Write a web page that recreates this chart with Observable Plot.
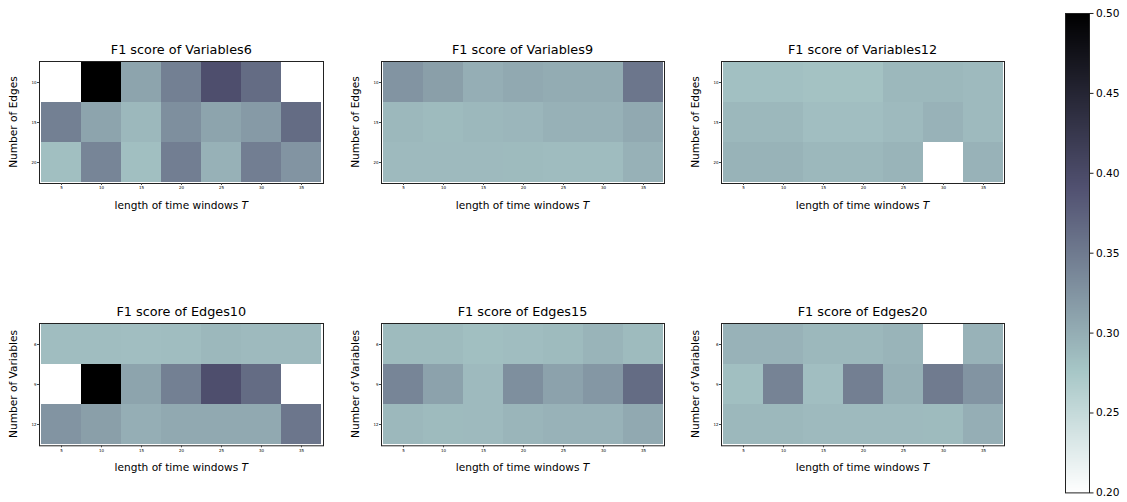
<!DOCTYPE html>
<html>
<head>
<meta charset="utf-8">
<script src="https://cdn.jsdelivr.net/npm/d3@7"></script>
<script src="https://cdn.jsdelivr.net/npm/@observablehq/plot@0.6"></script>
<style>
  html, body { margin: 0; padding: 0; background: #fff; }
  #fig { position: relative; width: 1127px; height: 502px; font-family: "DejaVu Sans", sans-serif; color: #000; overflow: hidden; }
  .t { position: absolute; white-space: nowrap; transform: translate(-50%, -50%); line-height: 1; }
  .title { font-size: 12.8px; }
  .lab { font-size: 10.6px; }
  .rot { transform: translate(-50%, -50%) rotate(-90deg); }
  .p { position: absolute; }
</style>
</head>
<body>
<div id="fig"></div>
<script>
// ---- data ----
const windows = [5, 10, 15, 20, 25, 30, 35];
const edgeCounts = [10, 15, 20];
const variableCounts = [6, 9, 12];
const colorTicks = [0.20, 0.25, 0.30, 0.35, 0.40, 0.45, 0.50];

// rows follow the y categories top to bottom; white cells are at or below 0.20
const variables6 = [
  [0.20, 0.50, 0.310, 0.345, 0.395, 0.365, 0.20],
  [0.345, 0.310, 0.290, 0.330, 0.310, 0.320, 0.365],
  [0.283, 0.340, 0.283, 0.347, 0.297, 0.347, 0.325]
];
const variables9 = [
  [0.325, 0.315, 0.300, 0.305, 0.302, 0.302, 0.355],
  [0.290, 0.287, 0.290, 0.292, 0.297, 0.297, 0.305],
  [0.288, 0.288, 0.288, 0.287, 0.286, 0.286, 0.297]
];
const variables12 = [
  [0.282, 0.282, 0.280, 0.280, 0.290, 0.290, 0.288],
  [0.290, 0.290, 0.284, 0.284, 0.288, 0.296, 0.288],
  [0.295, 0.295, 0.290, 0.290, 0.294, 0.20, 0.296]
];
const edges10 = [
  [0.285, 0.285, 0.284, 0.285, 0.290, 0.288, 0.288],
  [0.20, 0.50, 0.310, 0.345, 0.395, 0.365, 0.20],
  [0.325, 0.315, 0.300, 0.305, 0.305, 0.305, 0.355]
];
const edges15 = [
  [0.287, 0.287, 0.283, 0.285, 0.287, 0.294, 0.287],
  [0.340, 0.312, 0.288, 0.330, 0.312, 0.322, 0.365],
  [0.290, 0.287, 0.288, 0.293, 0.296, 0.296, 0.305]
];
const edges20 = [
  [0.296, 0.296, 0.290, 0.290, 0.294, 0.20, 0.296],
  [0.283, 0.342, 0.284, 0.346, 0.298, 0.350, 0.325],
  [0.290, 0.290, 0.288, 0.288, 0.288, 0.287, 0.300]
];

// ---- matplotlib "bone_r" colormap ----
function bone(s) {
  const r = s < 0.746032 ? 0.652778 * s / 0.746032 : 0.652778 + (1 - 0.652778) * (s - 0.746032) / (1 - 0.746032);
  const g = s < 0.365079 ? 0.319444 * s / 0.365079
    : s < 0.746032 ? 0.319444 + (0.777778 - 0.319444) * (s - 0.365079) / (0.746032 - 0.365079)
    : 0.777778 + (1 - 0.777778) * (s - 0.746032) / (1 - 0.746032);
  const b = s < 0.365079 ? 0.444444 * s / 0.365079 : 0.444444 + (1 - 0.444444) * (s - 0.365079) / (1 - 0.365079);
  return `rgb(${Math.round(r * 255)},${Math.round(g * 255)},${Math.round(b * 255)})`;
}
const boneR = t => bone(1 - Math.max(0, Math.min(1, t)));
const colorScale = { type: "linear", domain: [0.2, 0.5], interpolate: boneR, clamp: true };

const fig = document.getElementById("fig");

function addText(html, x, y, cls) {
  const d = document.createElement("div");
  d.className = "t " + cls;
  d.style.left = x + "px";
  d.style.top = y + "px";
  d.innerHTML = html;
  fig.appendChild(d);
}

const ML = 20, MR = 2, MT = 2, MB = 12;
function panel(values, yCats, title, yLabel, left, top, w, h) {
  const data = [];
  values.forEach((row, i) => row.forEach((v, j) => data.push({ w: windows[j], n: yCats[i], v })));
  const svg = Plot.plot({
    width: w + ML + MR,
    height: h + MT + MB,
    marginLeft: ML, marginRight: MR, marginTop: MT, marginBottom: MB,
    style: { fontFamily: "DejaVu Sans, sans-serif", background: "transparent", overflow: "visible" },
    x: { type: "band", domain: windows, padding: 0 },
    y: { type: "band", domain: yCats, padding: 0 },
    color: colorScale,
    marks: [
      Plot.cell(data, { x: "w", y: "n", fill: "v", inset: 0, shapeRendering: "crispEdges" }),
      Plot.frame({ stroke: "#222", strokeWidth: 1 }),
      Plot.axisX({ tickSize: 2, tickPadding: 1, fontSize: 4, label: null, stroke: "#444" }),
      Plot.axisY({ tickSize: 2, tickPadding: 1, fontSize: 4, label: null, stroke: "#444" })
    ]
  });
  svg.classList.add("p");
  svg.style.left = (left - ML) + "px";
  svg.style.top = (top - MT) + "px";
  fig.appendChild(svg);
  const cx = left + w / 2;
  addText(title, cx, top - 11, "title");
  addText("length of time windows <i>T</i>", cx, top + h + 22, "lab");
  addText(yLabel, left - 26, top + h / 2, "lab rot");
}

const lefts = [39.3, 381, 721];
const widths = [284, 283, 283];
panel(variables6, edgeCounts, "F1 score of Variables6", "Number of Edges", lefts[0], 60.7, widths[0], 122);
panel(variables9, edgeCounts, "F1 score of Variables9", "Number of Edges", lefts[1], 60.7, widths[1], 122);
panel(variables12, edgeCounts, "F1 score of Variables12", "Number of Edges", lefts[2], 60.7, widths[2], 122);
panel(edges10, variableCounts, "F1 score of Edges10", "Number of Variables", lefts[0], 322.7, widths[0], 122.3);
panel(edges15, variableCounts, "F1 score of Edges15", "Number of Variables", lefts[1], 322.7, widths[1], 122.3);
panel(edges20, variableCounts, "F1 score of Edges20", "Number of Variables", lefts[2], 322.7, widths[2], 122.3);

// ---- colorbar ----
const cbTop = 13.3, cbBottom = 492.7, cbLeft = 1065, cbW = 24;
const cb = Plot.plot({
  width: cbW + 1 + 45,
  height: (cbBottom - cbTop) + 16,
  marginLeft: 1, marginRight: 45, marginTop: 8, marginBottom: 8,
  style: { fontFamily: "DejaVu Sans, sans-serif", background: "transparent", overflow: "visible", color: "#000" },
  x: { domain: [0, 1], axis: null },
  y: { domain: [0.2, 0.5] },
  color: colorScale,
  marks: [
    Plot.raster({ x1: 0, x2: 1, y1: 0.2, y2: 0.5, fill: (x, y) => y, width: 1, height: 480, imageRendering: "auto" }),
    Plot.frame({ stroke: "#222", strokeWidth: 1 }),
    Plot.axisY({ anchor: "right", ticks: colorTicks, tickFormat: d3.format(".2f"), tickSize: 3.5, tickPadding: 3, fontSize: 10.6, label: null, stroke: "#222" })
  ]
});
cb.classList.add("p");
cb.style.left = (cbLeft - 1) + "px";
cb.style.top = (cbTop - 8) + "px";
fig.appendChild(cb);
</script>
</body>
</html>
